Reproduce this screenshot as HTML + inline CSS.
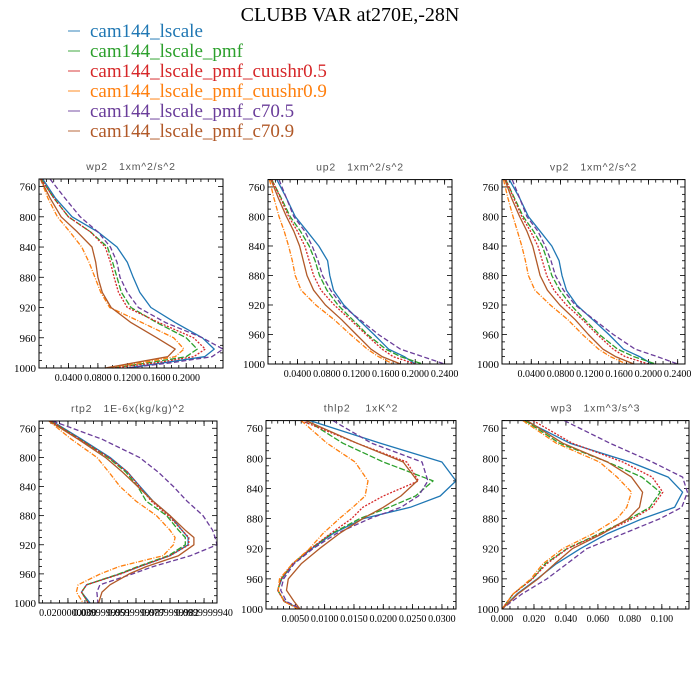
<!DOCTYPE html>
<html><head><meta charset="utf-8"><style>
html,body{margin:0;padding:0;background:#fff;}
svg{display:block;}
</style></head><body>
<svg id="chart" width="700" height="700" viewBox="0 0 700 700" xmlns="http://www.w3.org/2000/svg">
<rect width="700" height="700" fill="#fff"/>
<text x="350" y="21" text-anchor="middle" font-family="Liberation Serif, serif" font-size="20">CLUBB VAR at270E,-28N</text>
<g id="legend"></g>
<g id="panels"></g>
</svg>
<script>
const seriesNames = ["cam144_lscale","cam144_lscale_pmf","cam144_lscale_pmf_cuushr0.5","cam144_lscale_pmf_cuushr0.9","cam144_lscale_pmf_c70.5","cam144_lscale_pmf_c70.9"];
const seriesColors = ["#1f77b4","#2ca02c","#d62728","#ff7f0e","#6a3d9a","#b15928"];
const seriesDash = ["", "6,2", "2,1.5", "5,1.5,1,1.5", "5,2.5", ""];

// wp2
const wp2Levels = [750,775,800,820,840,860,880,900,920,940,960,975,985,993,1000];
const wp2Blue   = [0.005,0.022,0.045,0.08,0.106,0.12,0.128,0.137,0.152,0.185,0.222,0.238,0.225,0.17,0.12];
const wp2Green  = [0.003,0.02,0.04,0.07,0.093,0.1,0.106,0.112,0.125,0.16,0.2,0.215,0.2,0.15,0.1];
const wp2Red    = [0.003,0.02,0.04,0.07,0.09,0.097,0.102,0.108,0.12,0.163,0.21,0.226,0.21,0.16,0.1];
const wp2Orange = [0.002,0.012,0.025,0.042,0.058,0.068,0.076,0.084,0.096,0.14,0.183,0.197,0.185,0.14,0.09];
const wp2Purple = [0.015,0.035,0.056,0.08,0.097,0.106,0.11,0.12,0.135,0.172,0.222,0.25,0.235,0.18,0.12];
const wp2Brown  = [0.002,0.015,0.03,0.052,0.072,0.077,0.08,0.086,0.098,0.125,0.16,0.185,0.175,0.13,0.09];
// up2
const up2Levels = [750,775,800,820,840,860,880,900,920,940,960,980,990,1000];
const up2Blue   = [0.012,0.025,0.037,0.053,0.069,0.081,0.084,0.089,0.103,0.123,0.144,0.164,0.185,0.2];
const up2Green  = [0.005,0.018,0.03,0.044,0.056,0.064,0.07,0.08,0.095,0.115,0.135,0.16,0.18,0.21];
const up2Red    = [0.005,0.017,0.028,0.04,0.05,0.056,0.062,0.072,0.09,0.112,0.133,0.155,0.17,0.2];
const up2Orange = [0.002,0.008,0.015,0.022,0.028,0.033,0.037,0.045,0.065,0.09,0.112,0.135,0.15,0.17];
const up2Purple = [0.015,0.025,0.035,0.05,0.06,0.068,0.074,0.085,0.1,0.125,0.15,0.18,0.21,0.24];
const up2Brown  = [0.004,0.014,0.025,0.035,0.043,0.048,0.053,0.062,0.078,0.1,0.12,0.14,0.155,0.18];
// vp2
const vp2Levels = [750,775,800,820,840,860,880,900,920,940,960,980,990,1000];
const vp2Blue   = [0.01,0.024,0.036,0.052,0.068,0.078,0.082,0.088,0.102,0.124,0.146,0.166,0.188,0.205];
const vp2Green  = [0.005,0.017,0.029,0.043,0.055,0.062,0.068,0.079,0.094,0.113,0.133,0.158,0.18,0.21];
const vp2Red    = [0.005,0.016,0.027,0.039,0.049,0.055,0.061,0.071,0.088,0.11,0.13,0.152,0.168,0.2];
const vp2Orange = [0.002,0.008,0.015,0.021,0.027,0.032,0.036,0.045,0.066,0.09,0.11,0.132,0.148,0.17];
const vp2Purple = [0.014,0.024,0.034,0.049,0.059,0.067,0.073,0.084,0.1,0.126,0.152,0.182,0.212,0.24];
const vp2Brown  = [0.004,0.013,0.024,0.034,0.042,0.047,0.052,0.062,0.079,0.1,0.118,0.138,0.155,0.18];
// rtp2
const rtp2Levels = [750,775,800,820,840,860,880,900,910,920,935,950,960,975,985,1000];
const rtp2Blue   = [0.0106,0.028,0.0447,0.055,0.0624,0.07,0.08,0.087,0.0906,0.0906,0.08,0.062,0.0506,0.031,0.028,0.033];
const rtp2Green  = [0.0100,0.027,0.0435,0.054,0.061,0.066,0.078,0.085,0.089,0.089,0.079,0.061,0.05,0.031,0.028,0.032];
const rtp2Red    = [0.0100,0.027,0.044,0.055,0.062,0.069,0.079,0.087,0.091,0.091,0.08,0.062,0.051,0.031,0.028,0.032];
const rtp2Orange = [0.0088,0.022,0.037,0.044,0.0506,0.06,0.072,0.08,0.083,0.082,0.076,0.05,0.039,0.026,0.025,0.029];
const rtp2Purple = [0.011,0.04,0.062,0.073,0.082,0.09,0.0994,0.105,0.1065,0.1076,0.092,0.07,0.058,0.0388,0.037,0.0376];
const rtp2Brown  = [0.009,0.026,0.042,0.052,0.061,0.07,0.08,0.089,0.094,0.094,0.085,0.066,0.056,0.0447,0.04,0.038];
// thlp2
const thlp2Levels = [750,780,805,830,850,865,880,900,920,940,960,975,990,1000];
const thlp2Blue   = [0.0075,0.0195,0.030,0.0324,0.0297,0.0246,0.0166,0.0114,0.0078,0.0046,0.0027,0.0020,0.0032,0.0058];
const thlp2Green  = [0.0070,0.0131,0.0200,0.0285,0.0255,0.0210,0.0160,0.0112,0.0076,0.0045,0.0026,0.0020,0.0031,0.0057];
const thlp2Red    = [0.0060,0.0155,0.0240,0.0260,0.0200,0.0165,0.0146,0.0110,0.0076,0.0045,0.0026,0.0020,0.0031,0.0057];
const thlp2Orange = [0.0060,0.0104,0.0152,0.0174,0.0169,0.0148,0.0125,0.0097,0.0074,0.0045,0.0023,0.0021,0.0031,0.0055];
const thlp2Purple = [0.0114,0.0180,0.0266,0.0276,0.0260,0.0230,0.0177,0.0120,0.0080,0.0048,0.0030,0.0025,0.0035,0.0060];
const thlp2Brown  = [0.0068,0.0155,0.0234,0.0258,0.0230,0.0200,0.0165,0.0125,0.0091,0.0060,0.0038,0.0035,0.0048,0.0058];
// wp3
const wp3Levels = [750,780,805,825,845,865,880,900,920,940,960,980,1000];
const wp3Blue   = [0.0144,0.0425,0.080,0.104,0.113,0.108,0.088,0.066,0.049,0.034,0.022,0.0094,0];
const wp3Green  = [0.0144,0.036,0.066,0.0875,0.099,0.0925,0.080,0.061,0.0406,0.027,0.019,0.007,0];
const wp3Red    = [0.0194,0.044,0.0756,0.094,0.1006,0.094,0.082,0.062,0.041,0.028,0.019,0.007,0];
const wp3Orange = [0.0131,0.034,0.061,0.072,0.081,0.078,0.072,0.057,0.038,0.0256,0.018,0.007,0];
const wp3Purple = [0.039,0.0675,0.094,0.113,0.116,0.1125,0.099,0.076,0.053,0.0406,0.028,0.0125,0];
const wp3Brown  = [0.0156,0.038,0.066,0.081,0.088,0.086,0.079,0.063,0.044,0.033,0.0225,0.010,0];

// x tick values and labels
const wp2Ticks = [0.04,0.08,0.12,0.16,0.20];
const wp2TickLabels = ["0.0400","0.0800","0.1200","0.1600","0.2000"];
const up2Ticks = [0.04,0.08,0.12,0.16,0.20,0.24];
const up2TickLabels = ["0.0400","0.0800","0.1200","0.1600","0.2000","0.2400"];
const rtp2Ticks = [0.02,0.04,0.06,0.08,0.10];
const rtp2TickLabels = ["0.0200000000","0.0399999991","0.0599999987","0.0799999982","0.0999999940"];
const thlp2Ticks = [0.005,0.010,0.015,0.020,0.025,0.030];
const thlp2TickLabels = ["0.0050","0.0100","0.0150","0.0200","0.0250","0.0300"];
const wp3Ticks = [0,0.02,0.04,0.06,0.08,0.10];
const wp3TickLabels = ["0.000","0.020","0.040","0.060","0.080","0.100"];
const yTicks = [760,800,840,880,920,960,1000];

const panels = [
 {name:"wp2", title:"wp2   1xm^2/s^2", L:39,R:223,T:179,B:368, xmin:0, xmax:0.25, lev:wp2Levels, data:[wp2Blue,wp2Green,wp2Red,wp2Orange,wp2Purple,wp2Brown], ticks:wp2Ticks, labels:wp2TickLabels, minor:0.01},
 {name:"up2", title:"up2   1xm^2/s^2", L:268,R:452,T:179.6,B:364, xmin:0, xmax:0.25, lev:up2Levels, data:[up2Blue,up2Green,up2Red,up2Orange,up2Purple,up2Brown], ticks:up2Ticks, labels:up2TickLabels, minor:0.01},
 {name:"vp2", title:"vp2   1xm^2/s^2", L:502,R:685,T:179.6,B:364, xmin:0, xmax:0.25, lev:vp2Levels, data:[vp2Blue,vp2Green,vp2Red,vp2Orange,vp2Purple,vp2Brown], ticks:up2Ticks, labels:up2TickLabels, minor:0.01},
 {name:"rtp2", title:"rtp2   1E-6x(kg/kg)^2", L:39,R:217,T:421,B:603, xmin:0.003, xmax:0.1076, lev:rtp2Levels, data:[rtp2Blue,rtp2Green,rtp2Red,rtp2Orange,rtp2Purple,rtp2Brown], ticks:rtp2Ticks, labels:rtp2TickLabels, minor:0.005},
 {name:"thlp2", title:"thlp2    1xK^2", L:266,R:456,T:420.6,B:609, xmin:0, xmax:0.0324, lev:thlp2Levels, data:[thlp2Blue,thlp2Green,thlp2Red,thlp2Orange,thlp2Purple,thlp2Brown], ticks:thlp2Ticks, labels:thlp2TickLabels, minor:0.001},
 {name:"wp3", title:"wp3   1xm^3/s^3", L:502,R:689,T:420.6,B:609, xmin:0, xmax:0.117, lev:wp3Levels, data:[wp3Blue,wp3Green,wp3Red,wp3Orange,wp3Purple,wp3Brown], ticks:wp3Ticks, labels:wp3TickLabels, minor:0.005}
];

const NS = "http://www.w3.org/2000/svg";
function mk(tag, attrs, parent){
  const e = document.createElementNS(NS, tag);
  for (const k in attrs) e.setAttribute(k, attrs[k]);
  parent.appendChild(e);
  return e;
}

// legend
const leg = document.getElementById('legend');
seriesNames.forEach((n,i)=>{
  const y = 36 + i*20;
  const ln = mk('line',{x1:68,x2:80,y1:y-5,y2:y-5,stroke:seriesColors[i],'stroke-width':1.5,opacity:0.6},leg);
  
  
  const t = mk('text',{x:90,y:y+1,fill:seriesColors[i],'font-family':'Liberation Serif, serif','font-size':19},leg);
  t.textContent = n;
  
  
});

const root = document.getElementById('panels');
panels.forEach(p=>{
  const g = mk('g',{},root);
  
  
  const xs = v => p.L + (v - p.xmin)/(p.xmax - p.xmin)*(p.R - p.L);
  const ys = v => p.T + (v - 750)/250*(p.B - p.T);
  const title = mk('text',{x:(p.L+p.R)/2,y:p.T-9,'text-anchor':'middle','font-family':'Liberation Sans, sans-serif','font-size':10.5,'letter-spacing':0.8,fill:'#555','xml:space':'preserve',style:'white-space:pre'},g);
  title.textContent = p.title;
  
  
  for(let v=750; v<=1000; v+=10){
    const major = (v-760)%40===0;
    const len = major?5:3;
    const y = ys(v);
    mk('line',{x1:p.L,x2:p.L+len,y1:y,y2:y,stroke:'#000','stroke-width':0.8},g);
    mk('line',{x1:p.R,x2:p.R-len,y1:y,y2:y,stroke:'#000','stroke-width':0.8},g);
  }
  yTicks.forEach(v=>{
    const t = mk('text',{x:p.L-3,y:ys(v)+4,'text-anchor':'end','font-family':'Liberation Serif, serif','font-size':11},g);
    t.textContent = v;
    
    
  });
  const start = Math.ceil(p.xmin/p.minor);
  for(let k=start; k*p.minor<=p.xmax+1e-9; k++){
    const x = xs(k*p.minor);
    mk('line',{x1:x,x2:x,y1:p.B,y2:p.B-3,stroke:'#000','stroke-width':0.8},g);
    mk('line',{x1:x,x2:x,y1:p.T,y2:p.T+3,stroke:'#000','stroke-width':0.8},g);
  }
  p.ticks.forEach((v,i)=>{
    const x = xs(v);
    mk('line',{x1:x,x2:x,y1:p.B,y2:p.B-5,stroke:'#000','stroke-width':0.8},g);
    mk('line',{x1:x,x2:x,y1:p.T,y2:p.T+5,stroke:'#000','stroke-width':0.8},g);
    const t = mk('text',{x:x,y:p.B+13,'text-anchor':'middle','font-family':'Liberation Serif, serif','font-size':10},g);
    t.textContent = p.labels[i];
    
    
  });
  p.data.forEach((arr,si)=>{
    const pts = arr.map((v,j)=>xs(v).toFixed(1)+','+ys(p.lev[j]).toFixed(1)).join(' ');
    const attrs = {points:pts,fill:'none',stroke:seriesColors[si],'stroke-width':1.3,'stroke-linejoin':'round'};
    if(seriesDash[si]) attrs['stroke-dasharray']=seriesDash[si];
    const pl = mk('polyline',attrs,g);
    
    
  });
  const fr = mk('rect',{x:p.L,y:p.T,width:p.R-p.L,height:p.B-p.T,fill:'none',stroke:'#000','stroke-width':1},g);
  
  
});
</script>
</body></html>
